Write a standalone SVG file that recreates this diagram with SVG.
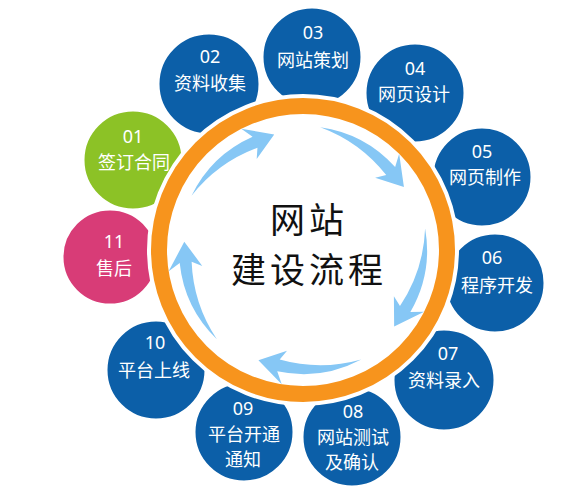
<svg xmlns="http://www.w3.org/2000/svg" xmlns:xlink="http://www.w3.org/1999/xlink" width="583" height="502" viewBox="0 0 583 502">
<style>
.node{stroke:#fff;stroke-width:3}
.blue{fill:#0c5fa8}
.green{fill:#8cc226}
.pink{fill:#d83c77}
.t{font-family:"Noto Sans CJK SC","Noto Sans",sans-serif;font-size:18px;fill:#fff;text-anchor:middle}
.n{font-family:"Noto Sans","Noto Sans CJK SC",sans-serif;font-size:18px;fill:#fff;text-anchor:middle}
.c{font-family:"Noto Sans CJK SC",sans-serif;font-size:35px;letter-spacing:4px;fill:#111;text-anchor:middle}
.arr{fill:#86c7f5}
</style>
<defs>
<path id="arr" class="arr" d="M -111.45,-54.36 A 124 124 0 0 1 -50.43,-113.27 L -61.74,-121.18 L -28.79,-115.47 L -46.31,-90.88 L -45.55,-102.31 A 150 150 0 0 0 -111.45,-54.36 Z"/>
</defs>
<rect width="583" height="502" fill="#fff"/>
<g id="n11"><circle class="node pink" cx="110" cy="257" r="48"/><text class="n" x="114" y="248">11</text><text class="t" x="114" y="275">售后</text></g>
<g id="n01"><circle class="node green" cx="133" cy="160" r="50"/><text class="n" x="133" y="143">01</text><text class="t" x="134" y="169">签订合同</text></g>
<g id="n02"><circle class="node blue" cx="209" cy="84" r="51"/><text class="n" x="210" y="63">02</text><text class="t" x="210" y="90">资料收集</text></g>
<g id="n03"><circle class="node blue" cx="312" cy="57" r="50"/><text class="n" x="313" y="39">03</text><text class="t" x="313" y="67">网站策划</text></g>
<g id="n04"><circle class="node blue" cx="415" cy="93" r="50"/><text class="n" x="415" y="75">04</text><text class="t" x="414" y="101">网页设计</text></g>
<g id="n05"><circle class="node blue" cx="482" cy="177" r="50"/><text class="n" x="482" y="158">05</text><text class="t" x="485" y="184">网页制作</text></g>
<g id="n06"><circle class="node blue" cx="495" cy="283" r="50"/><text class="n" x="492" y="264">06</text><text class="t" x="497" y="292">程序开发</text></g>
<g id="n07"><circle class="node blue" cx="444" cy="380" r="51"/><text class="n" x="448" y="360">07</text><text class="t" x="444" y="387">资料录入</text></g>
<g id="n10"><circle class="node blue" cx="156" cy="370" r="50"/><text class="n" x="155" y="349">10</text><text class="t" x="154" y="377">平台上线</text></g>
<g id="n09"><circle class="node blue" cx="244" cy="432" r="50"/><text class="n" x="243" y="415">09</text><text class="t" x="244" y="441">平台开通</text><text class="t" x="243" y="466">通知</text></g>
<g id="n08"><circle class="node blue" cx="352" cy="437" r="50"/><text class="n" x="353" y="418">08</text><text class="t" x="353" y="444">网站测试</text><text class="t" x="352" y="469">及确认</text></g>
<g id="center">
<circle cx="303" cy="250" r="144" fill="#fff" stroke="#fff" stroke-width="24"/>
<circle cx="303" cy="250" r="144" fill="#fff" stroke="#f7941d" stroke-width="16"/>
<text class="c" x="309" y="233">网站</text>
<text class="c" x="309" y="283">建设流程</text>
</g>
<g id="connectors">
<use xlink:href="#arr" transform="translate(303,250) rotate(0)"/>
<use xlink:href="#arr" transform="translate(303,250) rotate(72)"/>
<use xlink:href="#arr" transform="translate(303,250) rotate(144)"/>
<use xlink:href="#arr" transform="translate(303,250) rotate(216)"/>
<use xlink:href="#arr" transform="translate(303,250) rotate(288)"/>
</g>
</svg>
